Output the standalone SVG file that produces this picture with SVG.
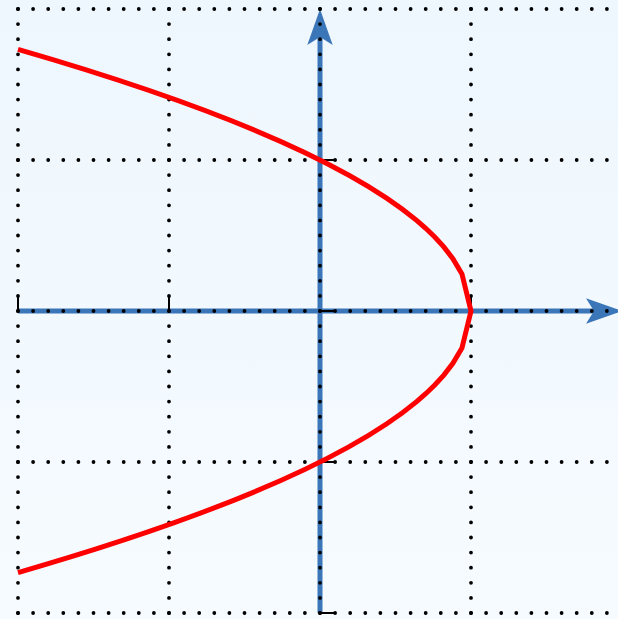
<svg xmlns="http://www.w3.org/2000/svg" width="618" height="619" viewBox="0 0 618 619">
  <style>
    .grid { stroke: #000; stroke-width: 3.8; stroke-linecap: round; stroke-dasharray: 0 15.1; fill: none; }
    .axis { stroke: #3b76b8; stroke-width: 5; fill: none; }
    .arrow { fill: #3b76b8; stroke: none; }
    .tick { stroke: #000; stroke-width: 2; fill: none; }
    .curve { stroke: #ff0000; stroke-width: 5; fill: none; }
  </style>
  <defs>
    <linearGradient id="bg" x1="0" y1="0" x2="0" y2="1">
      <stop offset="0" stop-color="#eef7fe"/>
      <stop offset="1" stop-color="#f6fbff"/>
    </linearGradient>
    <path id="head" d="M0,0 L-36,-12.7 L-28,0 L-36,12.7 Z"/>
  </defs>
  <rect x="0" y="0" width="618" height="619" fill="url(#bg)"/>
  <g id="axes">
    <line class="axis" x1="18" y1="311" x2="600" y2="311"/>
    <line class="axis" x1="320" y1="613" x2="320" y2="32"/>
    <use href="#head" class="arrow" transform="translate(622,311)"/>
    <use href="#head" class="arrow" transform="translate(320,9) rotate(-90)"/>
  </g>
  <g id="grid">
    <line class="grid" x1="18" y1="9" x2="18" y2="614"/>
    <line class="grid" x1="169" y1="9" x2="169" y2="614"/>
    <line class="grid" x1="320" y1="9" x2="320" y2="614"/>
    <line class="grid" x1="471" y1="9" x2="471" y2="614"/>
    <line class="grid" x1="18" y1="9" x2="625" y2="9"/>
    <line class="grid" x1="18" y1="160" x2="625" y2="160"/>
    <line class="grid" x1="18" y1="311" x2="625" y2="311"/>
    <line class="grid" x1="18" y1="462" x2="625" y2="462"/>
    <line class="grid" x1="18" y1="613" x2="625" y2="613"/>
  </g>
  <g id="ticks">
    <line class="tick" x1="18" y1="296" x2="18" y2="311"/>
    <line class="tick" x1="169" y1="296" x2="169" y2="311"/>
    <line class="tick" x1="471" y1="296" x2="471" y2="311"/>
    <line class="tick" x1="320" y1="160" x2="335" y2="160"/>
    <line class="tick" x1="320" y1="311" x2="335" y2="311"/>
    <line class="tick" x1="320" y1="462" x2="335" y2="462"/>
    <line class="tick" x1="320" y1="613" x2="335" y2="613"/>
  </g>
  <g id="curve">
    <path class="curve" d="M18,49.46 Q314.08,134.93 416.64,220.4 L425.7,228.3 L434.76,237.03 L443.82,246.93 L452.88,258.69 L461.94,274.02 L471,311 L461.94,347.98 L452.88,363.31 L443.82,375.07 L434.76,384.97 L425.7,393.7 L416.64,401.6 Q314.08,487.07 18,572.54"/>
  </g>
</svg>
